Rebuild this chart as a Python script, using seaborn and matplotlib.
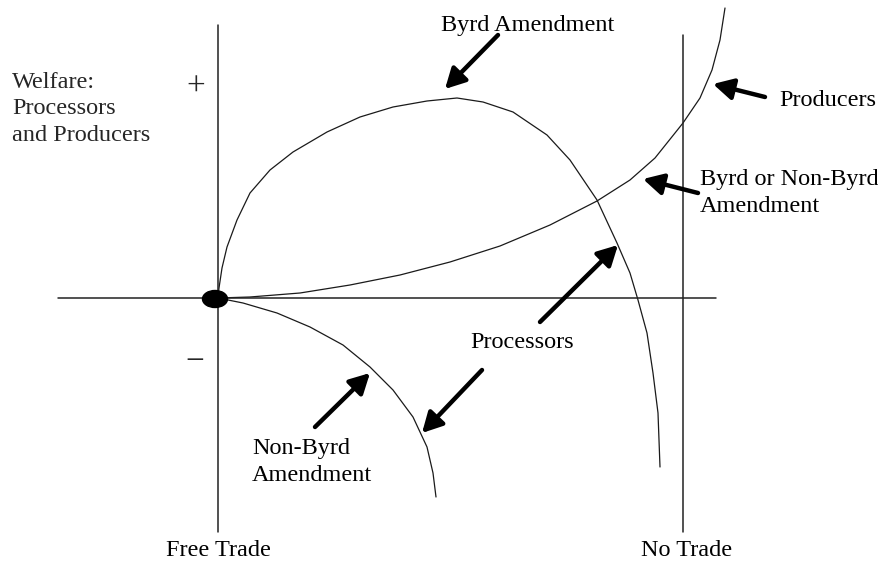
import pandas as pd
import numpy as np
import matplotlib
matplotlib.use("Agg")
import matplotlib.pyplot as plt
from matplotlib.patches import Ellipse
import seaborn as sns

# curve points (x right, y up, origin = free-trade point)
byrd_x = [0, 1, 4, 9, 19, 32, 52, 75, 109, 142, 175, 209, 239, 265, 295, 329, 352, 379, 399, 412, 420, 429, 435, 440, 442]
byrd_y = [0, 10, 30, 51, 78, 105, 128, 146, 166, 181, 191, 197, 200, 196, 186, 163, 138, 98, 55, 25, -2, -35, -75, -115, -169]

producers_x = [0, 32, 82, 132, 182, 232, 282, 332, 379, 412, 437, 465, 482, 494, 502, 507]
producers_y = [0, 1, 5, 13, 23, 36, 52, 73, 97, 118, 140, 175, 200, 228, 258, 290]

nonbyrd_x = [0, 25, 59, 92, 125, 152, 175, 195, 209, 215, 218]
nonbyrd_y = [0, -5, -15, -29, -47, -69, -92, -119, -149, -175, -199]

# axis lines
welfare_axis = ([0, 0], [273, -234])
trade_axis = ([-160, 498], [0, 0])
no_trade_line = ([465, 465], [263, -234])
origin_point = (-3, -1)

# arrows: tail -> head
arrow_tails = [(280, 263), (547, 201), (480, 105), (322, -24), (264, -72), (97, -129)]
arrow_heads = [(227, 209), (495, 214), (425, 119), (400, 53), (204, -135), (152, -75)]

labels = ["Byrd Amendment", "Producers", "Byrd or Non-Byrd\nAmendment",
          "Processors", "Non-Byrd\nAmendment", "Free Trade", "No Trade"]
label_pos = [(310, 272), (610, 198), (482, 105), (252, -45), (34, -164), (0, -253), (469, -253)]
label_ha = ["center", "center", "left", "left", "left", "center", "center"]

df = pd.concat([
    pd.DataFrame({"x": byrd_x, "y": byrd_y, "curve": "Byrd"}),
    pd.DataFrame({"x": producers_x, "y": producers_y, "curve": "Producers"}),
    pd.DataFrame({"x": nonbyrd_x, "y": nonbyrd_y, "curve": "Non-Byrd"}),
], ignore_index=True)

sns.set_theme(style="white")
plt.rcParams['font.family'] = ['Liberation Serif', 'DejaVu Serif']

fig = plt.figure(figsize=(8.79, 5.65), dpi=100)
ax = fig.add_axes([0, 0, 1, 1])

sns.lineplot(data=df, x="x", y="y", units="curve", estimator=None, sort=False,
             color="#1a1a1a", linewidth=0.9, ax=ax)

for xs, ys in [welfare_axis, trade_axis, no_trade_line]:
    ax.plot(xs, ys, color="#222222", linewidth=1.1)

ax.add_patch(Ellipse(origin_point, 25, 17, color="black", zorder=5))

for tail, head in zip(arrow_tails, arrow_heads):
    ax.annotate("", xy=head, xytext=tail,
                arrowprops=dict(arrowstyle="-|>,head_length=0.6,head_width=0.32",
                                mutation_scale=20, lw=3.2, color="black",
                                shrinkA=0, shrinkB=0))

for text, (tx, ty), ha in zip(labels, label_pos, label_ha):
    ax.text(tx, ty, text, ha=ha, va="center", fontsize=17.5, color="black",
            multialignment="left", linespacing=1.4)

ax.text(-206, 189, "Welfare:\nProcessors\nand Producers", ha="left", va="center",
        fontsize=17.5, linespacing=1.35)
ax.text(-22, 211, "+", ha="center", va="center", fontsize=24)
ax.text(-23, -64, "\u2212", ha="center", va="center", fontsize=24)

ax.set_xlim(-218, 661)
ax.set_ylim(-267, 298)
ax.axis("off")

fig.savefig("out.png", dpi=100)
